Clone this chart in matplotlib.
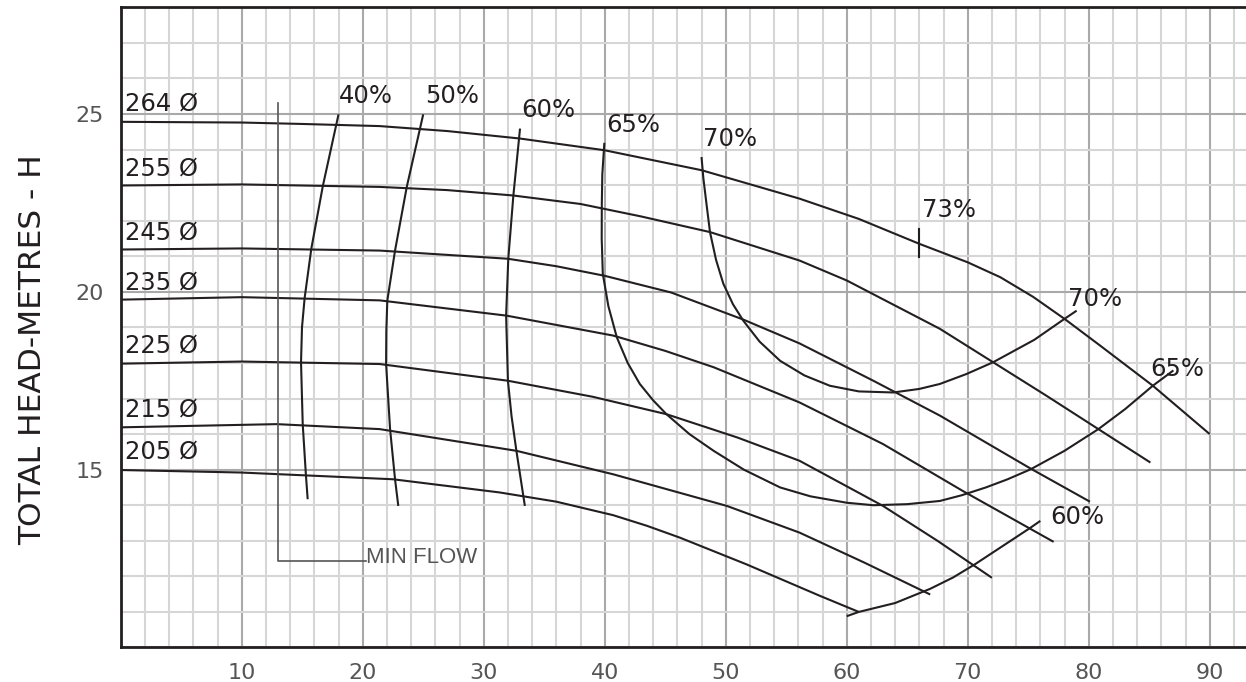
import matplotlib.pyplot as plt
import numpy as np

# head curves per impeller diameter (flow, head)
q_264 = [0, 10, 15, 21.4, 27, 33, 40, 48, 56.1, 61, 66, 70, 72.7, 75.4, 78, 80.9, 85.3, 90]
h_264 = [24.78, 24.76, 24.72, 24.66, 24.52, 24.31, 23.98, 23.42, 22.62, 22.05, 21.35, 20.83, 20.41, 19.86, 19.24, 18.5, 17.36, 16.0]
q_255 = [0, 10, 21.4, 27, 32.4, 38, 43, 48.7, 56.1, 60, 67.7, 72.1, 76.5, 80.8, 85.1]
h_255 = [22.99, 23.02, 22.95, 22.86, 22.71, 22.47, 22.12, 21.68, 20.88, 20.32, 18.96, 18.02, 17.08, 16.14, 15.2]
q_245 = [0, 10, 21.4, 32, 36, 40, 45.5, 51.45, 56.1, 62.2, 67.7, 75.2, 80.1]
h_245 = [21.19, 21.22, 21.16, 20.93, 20.72, 20.45, 19.98, 19.22, 18.55, 17.5, 16.52, 15.03, 14.1]
q_235 = [0, 10, 21.4, 31.9, 40.7, 45, 49.0, 56.1, 63, 69.6, 77.1]
h_235 = [19.78, 19.85, 19.76, 19.33, 18.77, 18.34, 17.88, 16.89, 15.72, 14.40, 12.97]
q_225 = [0, 10, 21.4, 32, 39, 45.1, 51, 56.1, 63, 67.5, 72]
h_225 = [17.98, 18.04, 17.97, 17.5, 17.05, 16.56, 15.9, 15.25, 13.98, 13.0, 11.96]
q_215 = [0, 12.9, 21.4, 32.7, 40.7, 50.1, 56.1, 61.5, 66.9]
h_215 = [16.19, 16.28, 16.14, 15.53, 14.87, 13.98, 13.23, 12.38, 11.49]
q_205 = [0, 9.9, 22.5, 31.3, 36, 40.7, 43.5, 46.2, 51.7, 57.8, 61.0]
h_205 = [14.99, 14.92, 14.73, 14.36, 14.1, 13.72, 13.42, 13.09, 12.34, 11.45, 11.0]

diam_labels = ["264 Ø", "255 Ø", "245 Ø", "235 Ø", "225 Ø", "215 Ø", "205 Ø"]
diam_label_h = [25.11, 23.28, 21.48, 20.07, 18.29, 16.49, 15.3]

# efficiency curves
q_e40 = [18.0, 16.7, 15.75, 15.2, 14.98, 14.9, 15.04, 15.3, 15.45]
h_e40 = [24.99, 22.97, 21.21, 19.83, 19.0, 18.02, 16.28, 14.87, 14.17]
q_e50 = [25.0, 23.64, 22.67, 22.03, 21.95, 21.93, 22.26, 22.67, 22.94]
h_e50 = [24.99, 22.95, 21.16, 19.75, 18.9, 17.97, 16.14, 14.73, 13.98]
q_e60 = [33.0, 32.45, 32.03, 31.85, 32.0, 32.3, 32.7, 33.4]
h_e60 = [24.59, 22.71, 20.93, 19.33, 17.5, 16.5, 15.53, 13.98]
q_e65 = [39.97, 39.8, 39.76, 39.75, 39.84, 40.3, 41.0, 41.9, 42.9, 44.0, 45.1, 47.0, 49.0,
         51.5, 54.5, 57.0, 60.0, 62.2, 65.0, 67.7, 69.5, 71.5, 73.3, 75.2, 78.0, 80.8, 83.0, 85.3, 87.0]
h_e65 = [24.19, 23.3, 22.48, 21.5, 20.51, 19.6, 18.72, 18.0, 17.41, 16.95, 16.56, 16.0, 15.53,
         15.0, 14.5, 14.25, 14.07, 14.0, 14.03, 14.12, 14.28, 14.5, 14.73, 15.01, 15.53, 16.14, 16.7, 17.36, 17.79]
q_e70 = [48.0, 48.15, 48.4, 48.7, 49.2, 49.8, 50.6, 51.45, 52.8, 54.5, 56.5, 58.6, 61.0,
         63.85, 66.0, 67.7, 69.9, 72.1, 75.5, 78.0, 79.0]
h_e70 = [23.79, 23.2, 22.5, 21.68, 20.9, 20.23, 19.65, 19.19, 18.6, 18.06, 17.65, 17.36, 17.2,
         17.17, 17.27, 17.41, 17.69, 18.02, 18.65, 19.24, 19.47]
q_e60b = [60.0, 61.0, 64.0, 66.9, 68.8, 70.6, 75.2, 76.0]
h_e60b = [10.88, 11.0, 11.25, 11.65, 11.97, 12.34, 13.37, 13.56]

eff_labels = ["40%", "50%", "60%", "65%", "70%", "73%", "70%", "65%", "60%"]
eff_label_q = [18.04, 25.15, 33.14, 40.16, 48.15, 66.2, 78.3, 85.07, 76.8]
eff_label_h = [25.30, 25.30, 24.91, 24.5, 24.09, 22.1, 19.61, 17.64, 13.46]

bep_q = 66.0
bep_h = [20.97, 21.77]

min_flow_q = [13.0, 13.0, 20.3]
min_flow_h = [25.3, 12.42, 12.42]

ink = "#231f20"

fig = plt.figure(figsize=(12.46, 6.82), dpi=100)
ax = fig.add_axes([0.0969, 0.0506, 0.9031, 0.9387])
ax.set_xlim(0, 93.0)
ax.set_ylim(10, 28)

# grid
ax.set_xticks(np.arange(10, 91, 10))
ax.set_xticks(np.arange(0, 94, 2), minor=True)
ax.set_yticks([15, 20, 25])
ax.set_yticks(np.arange(10, 29, 1), minor=True)
ax.grid(which="minor", color="#d6d6d6", lw=1.5)
ax.grid(which="major", color="#a9a9a9", lw=1.5)
ax.set_axisbelow(True)
ax.tick_params(which="both", length=0)
ax.tick_params(axis="x", pad=11, labelsize=16, labelcolor="#555555")
ax.tick_params(axis="y", pad=12, labelsize=16, labelcolor="#555555")

for side in ["left", "bottom", "top"]:
    ax.spines[side].set_color(ink)
    ax.spines[side].set_linewidth(2.0)
ax.spines["right"].set_visible(False)

lw = 1.5
for q, h in [(q_264, h_264), (q_255, h_255), (q_245, h_245), (q_235, h_235),
             (q_225, h_225), (q_215, h_215), (q_205, h_205)]:
    ax.plot(q, h, color=ink, lw=lw, solid_capstyle="butt", solid_joinstyle="round")

for q, h in [(q_e40, h_e40), (q_e50, h_e50), (q_e60, h_e60), (q_e65, h_e65),
             (q_e70, h_e70), (q_e60b, h_e60b)]:
    ax.plot(q, h, color=ink, lw=lw, solid_capstyle="butt", solid_joinstyle="round")

ax.plot([bep_q, bep_q], bep_h, color=ink, lw=lw)
ax.plot(min_flow_q, min_flow_h, color="#555555", lw=1.2)

for txt, h in zip(diam_labels, diam_label_h):
    ax.text(0.35, h, txt, fontsize=17.5, color=ink, ha="left", va="baseline")

for txt, q, h in zip(eff_labels, eff_label_q, eff_label_h):
    ax.text(q, h, txt, fontsize=17.5, color=ink, ha="left", va="baseline")

ax.text(20.3, 12.37, "MIN FLOW", fontsize=16, color="#555555", ha="left", va="baseline",
        family="Liberation Sans")

ax.text(-0.078, 0.466, "TOTAL HEAD-METRES - H", transform=ax.transAxes, rotation=90,
        ha="center", va="center", fontsize=22.5, color=ink)

fig.savefig("out.png", dpi=100)
